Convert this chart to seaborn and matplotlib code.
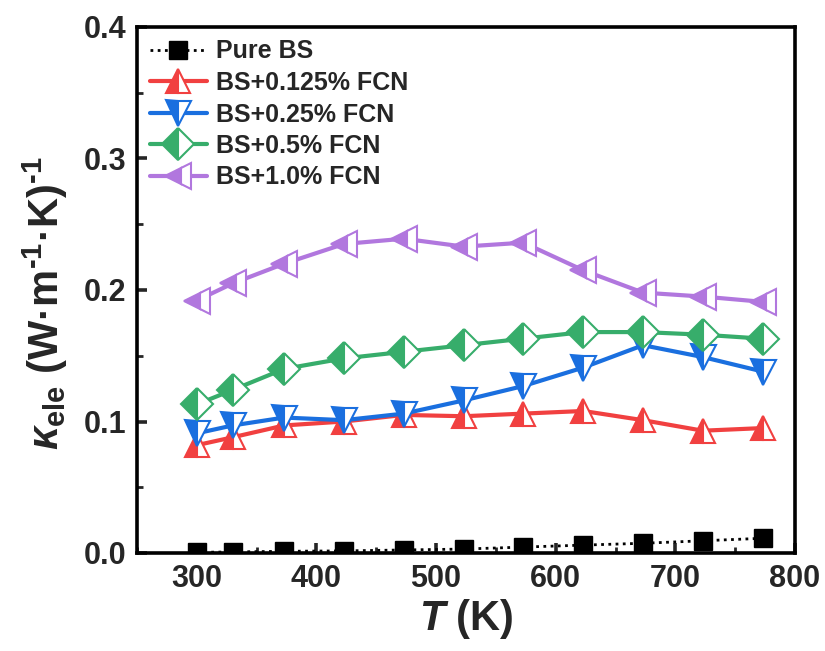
import matplotlib
matplotlib.use("Agg")
import matplotlib.pyplot as plt
import pandas as pd
import seaborn as sns
from matplotlib.ticker import MultipleLocator, FormatStrFormatter

# Temperature (K) and electronic thermal conductivity (W m^-1 K^-1)
temperature = [300, 330, 373, 423, 473, 523, 573, 623, 673, 723, 773]
pure_bs = [0.0005, 0.0008, 0.0013, 0.0016, 0.0023, 0.0030, 0.0045, 0.0060, 0.0074, 0.0093, 0.0112]
bs_fcn_0125 = [0.082, 0.088, 0.097, 0.100, 0.105, 0.104, 0.106, 0.108, 0.101, 0.093, 0.095]
bs_fcn_025 = [0.091, 0.097, 0.103, 0.101, 0.106, 0.116, 0.127, 0.141, 0.158, 0.149, 0.138]
bs_fcn_05 = [0.113, 0.124, 0.140, 0.148, 0.153, 0.158, 0.163, 0.168, 0.168, 0.166, 0.163]
bs_fcn_10 = [0.192, 0.205, 0.220, 0.235, 0.239, 0.233, 0.236, 0.215, 0.198, 0.195, 0.191]

labels = ["Pure BS", "BS+0.125% FCN", "BS+0.25% FCN", "BS+0.5% FCN", "BS+1.0% FCN"]
series = [pure_bs, bs_fcn_0125, bs_fcn_025, bs_fcn_05, bs_fcn_10]
colors = ["#000000", "#F14040", "#1A6FDF", "#37AD6B", "#B177DE"]
markers = ["s", "^", "v", "D", "<"]
marker_sizes = [13, 17, 18, 16, 19]

sns.set_style("ticks")
plt.rcParams["font.family"] = ["Liberation Sans", "DejaVu Sans"]
plt.rcParams["font.weight"] = "bold"
plt.rcParams["mathtext.fontset"] = "custom"
plt.rcParams["mathtext.rm"] = "Liberation Sans:bold"
plt.rcParams["mathtext.bf"] = "Liberation Sans:bold"
plt.rcParams["mathtext.it"] = "Liberation Sans:bold:italic"

fig = plt.figure(figsize=(8.25, 6.51), dpi=100)
ax = fig.add_axes([137 / 825, 1 - 553 / 651, (795 - 137) / 825, (553 - 27) / 651])

for label, values, color, marker, ms in zip(labels, series, colors, markers, marker_sizes):
    df = pd.DataFrame({"T": temperature, "k": values})
    if label == "Pure BS":
        sns.lineplot(
            data=df, x="T", y="k", ax=ax, label=label, color=color,
            linestyle=(0, (1, 1.6)), linewidth=2.0,
            marker=marker, markersize=ms, markerfacecolor=color,
            markeredgecolor=color, markeredgewidth=1.0,
        )
    else:
        sns.lineplot(
            data=df, x="T", y="k", ax=ax, label=label, color=color,
            linewidth=3.0, marker=marker, markersize=ms,
            fillstyle="left", markerfacecolor=color, markerfacecoloralt="white",
            markeredgecolor=color, markeredgewidth=1.5,
        )

ax.set_xlim(250, 800)
ax.set_ylim(0.0, 0.4)
ax.xaxis.set_major_locator(MultipleLocator(100))
ax.xaxis.set_minor_locator(MultipleLocator(50))
ax.yaxis.set_major_locator(MultipleLocator(0.1))
ax.yaxis.set_minor_locator(MultipleLocator(0.05))
ax.yaxis.set_major_formatter(FormatStrFormatter("%.1f"))

for spine in ax.spines.values():
    spine.set_linewidth(2.6)
    spine.set_color("black")

ax.tick_params(axis="both", which="major", direction="in", length=7, width=2.6,
               labelsize=22, pad=8, top=False, right=False)
ax.tick_params(axis="both", which="minor", direction="in", length=4, width=2.0,
               top=False, right=False)
for lbl in ax.get_xticklabels() + ax.get_yticklabels():
    lbl.set_fontweight("bold")

ax.set_xlabel(r"$\mathit{T}$ (K)", fontsize=30, fontweight="bold", labelpad=2)
ax.set_ylabel(r"$\mathit{\kappa}_{\rm ele}$ (W·m$^{\text{-1}}$·K)$^{\text{-1}}$",
              fontsize=30, fontweight="bold")
ax.yaxis.set_label_coords(-0.102, 0.475)

leg = ax.legend(loc="upper left", frameon=False,
                prop={"weight": "bold", "size": 18},
                handlelength=2.3, handletextpad=0.35, labelspacing=0.30,
                borderaxespad=0.1, borderpad=0.4)

fig.savefig("out.png", dpi=100)
